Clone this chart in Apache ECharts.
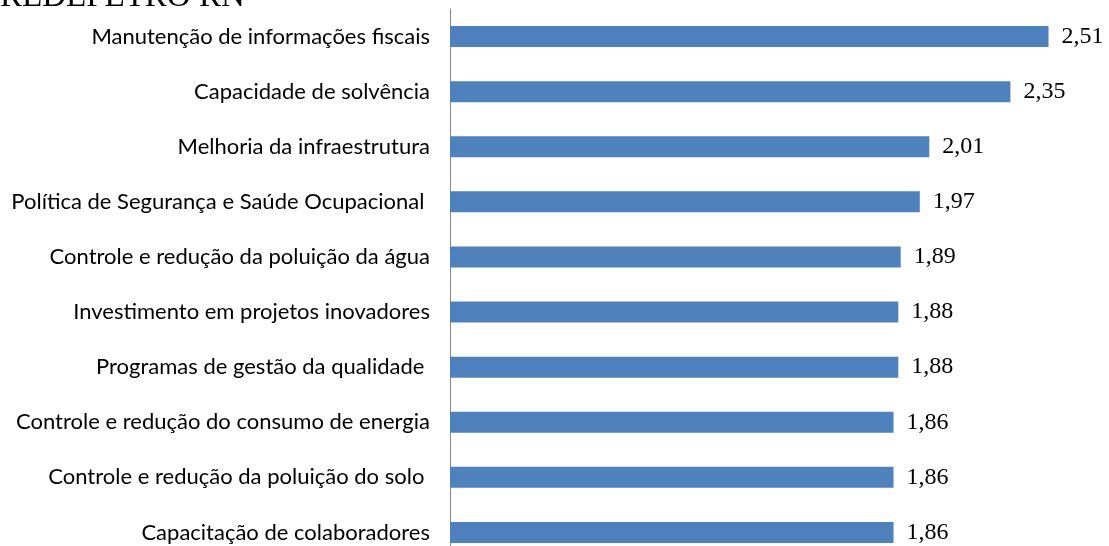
<!DOCTYPE html>
<html>
<head>
<meta charset="utf-8">
<script src="https://cdn.jsdelivr.net/npm/echarts@6/dist/echarts.min.js"></script>
<style>
  html,body{margin:0;padding:0;background:#fff;}
  #chart{width:1109px;height:546px;}
</style>
</head>
<body>
<div id="chart"></div>
<script>
// categorias (de baixo para cima, como no eixo do echarts)
var categorias = [
    'Capacitação de colaboradores',
    'Controle e redução da poluição do solo ',
    'Controle e redução do consumo de energia',
    'Programas de gestão da qualidade ',
    'Investimento em projetos inovadores',
    'Controle e redução da poluição da água',
    'Política de Segurança e Saúde Ocupacional ',
    'Melhoria da infraestrutura',
    'Capacidade de solvência',
    'Manutenção de informações fiscais'
];
// médias
var valores = [1.86, 1.86, 1.86, 1.88, 1.88, 1.89, 1.97, 2.01, 2.35, 2.51];
var titulo = 'REDEPETRO RN';

function loadChart(){
    var mychart = echarts.init(document.getElementById('chart'));
    var option = {
        backgroundColor: '#fff',
        animation: false,
        graphic: [{
            type: 'text',
            left: 0,
            top: -19,
            style: {
                text: titulo,
                font: '33px "Liberation Serif"',
                fill: '#000'
            }
        }],
        grid: {
            left: 450,
            width: 620,
            top: 9,
            height: 551,
            outerBoundsMode: 'none',
            containLabel: false
        },
        xAxis: {
            type: 'value',
            min: 0,
            max: 2.6,
            show: false,
            splitLine: {show: false}
        },
        yAxis: {
            type: 'category',
            data: categorias,
            axisLine: {show: true, lineStyle: {color: '#888', width: 1}},
            axisTick: {show: false},
            axisLabel: {
                margin: 20,
                color: '#000',
                fontFamily: 'Lato',
                fontSize: 22
            }
        },
        series: [{
            type: 'bar',
            data: valores,
            barWidth: 21,
            itemStyle: {color: '#4f81bd'},
            label: {
                show: true,
                position: 'right',
                distance: 13,
                color: '#000',
                fontFamily: 'Liberation Serif',
                fontSize: 24,
                formatter: function(p){
                    return p.value.toFixed(2).replace('.', ',');
                }
            }
        }]
    };
    mychart.setOption(option);
}
loadChart();
</script>
</body>
</html>
